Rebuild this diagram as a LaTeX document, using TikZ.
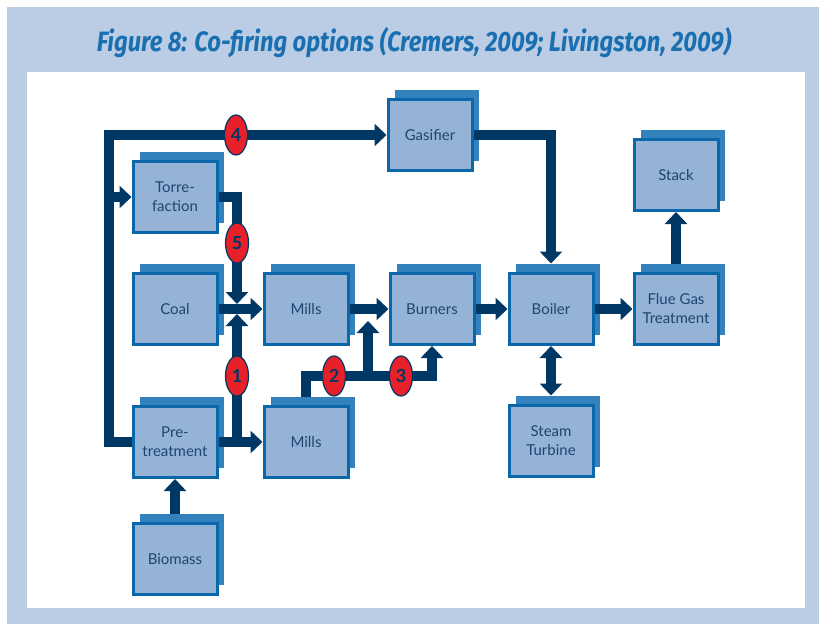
\documentclass[tikz,border=0pt]{standalone}
\usepackage{fontspec}
\setmainfont{Lato}
\newfontfamily\headfont{Fira Sans}[FakeStretch=0.85]
\usetikzlibrary{arrows.meta,shapes.geometric,shadows}
\definecolor{panelC}{HTML}{BACDE4}
\definecolor{headC}{HTML}{1A6FB0}
\definecolor{boxC}{HTML}{95B3D7}
\definecolor{rimC}{HTML}{0A68AA}
\definecolor{backC}{HTML}{3482BD}
\definecolor{lineC}{HTML}{003865}
\definecolor{textC}{HTML}{1D4670}
\definecolor{tagC}{HTML}{E8202A}
\tikzset{
  unit/.style={draw=rimC, line width=3pt, fill=boxC, minimum width=84pt, minimum height=71pt,
               align=center, text=textC, font=\fontsize{15}{19}\selectfont,
               copy shadow={shadow xshift=6.5pt, shadow yshift=10pt, fill=backC, draw=none}},
  flow/.style={draw=lineC, line width=10pt, -{Triangle[length=12pt,width=22pt]}},
  both/.style={flow, {Triangle[length=12pt,width=22pt]}-{Triangle[length=12pt,width=22pt]}},
  num/.style={ellipse, draw=lineC, line width=1.2pt, fill=tagC, minimum width=23pt, minimum height=40pt,
              inner sep=0pt, text=lineC, font=\bfseries\fontsize{18}{18}\selectfont},
  title/.style={text=headC, font=\headfont\bfseries\itshape\fontsize{28}{32}\selectfont},
}
\begin{document}
\begin{tikzpicture}[x=1pt, y=-1pt]
\useasboundingbox (0,0) rectangle (819,624);
\fill[panelC] (7,7) rectangle (819,624);
\fill[white] (27,72) rectangle (805,608);
\node[title] (head) at (414,43) {Figure 8: Co-firing options (Cremers, 2009; Livingston, 2009)};
% fuel side
\node[unit] (torre)  at (175,197) {Torre-\\faction};
\node[unit] (coal)   at (175,309) {Coal};
\node[unit] (pre)    at (175,442) {Pre-\\treatment};
\node[unit] (bio)    at (175,559) {Biomass};
\node[unit] (millsA) at (306,309) {Mills};
\node[unit] (millsB) at (306,442) {Mills};
\node[unit] (burn)   at (432,309) {Burners};
\node[unit] (gas)    at (430,135) {Gasifier};
% plant side
\node[unit] (boil)   at (551,309) {Boiler};
\node[unit] (steam)  at (551,441) {Steam\\Turbine};
\node[unit] (flue)   at (676,309) {Flue Gas\\Treatment};
\node[unit] (stack)  at (676,175) {Stack};
\coordinate (loop)  at (109,135);
\coordinate (jn)    at (237,309);
\coordinate (split) at (368,376);
% connectors
\draw[flow] ([yshift=8.5pt]bio.north) -- (pre.south);
\draw[flow] (pre.west) -| (loop) -- (gas.west);
\draw[flow] (loop |- torre.west) -- (torre.west);
\draw[flow] (torre.east) -| ([yshift=5pt]jn);
\draw[flow] (coal) -- (millsA);
\draw[flow] (pre) -- (millsB);
\draw[flow] (jn |- pre.east) -- ([yshift=-5pt]jn);
\draw[flow] (millsA) -- (burn);
\draw[flow] ([yshift=8.5pt]millsB.north) |- (split) -| (burn.south);
\draw[flow] (split) -- ([yshift=-12pt]split |- millsA.east);
\draw[flow] (burn) -- (boil);
\draw[flow] (gas.east) -| ([yshift=8.5pt]boil.north);
\draw[flow] (boil) -- (flue);
\draw[flow] ([yshift=8.5pt]flue.north) -- (stack.south);
\draw[both] (boil.south) -- ([yshift=8.5pt]steam.north);
% options
\node[num] (n4) at (236,135) {4};
\node[num] (n5) at (237,243) {5};
\node[num] (n1) at (237,376) {1};
\node[num] (n2) at (334,376) {2};
\node[num] (n3) at (401,376) {3};
\end{tikzpicture}
\end{document}
